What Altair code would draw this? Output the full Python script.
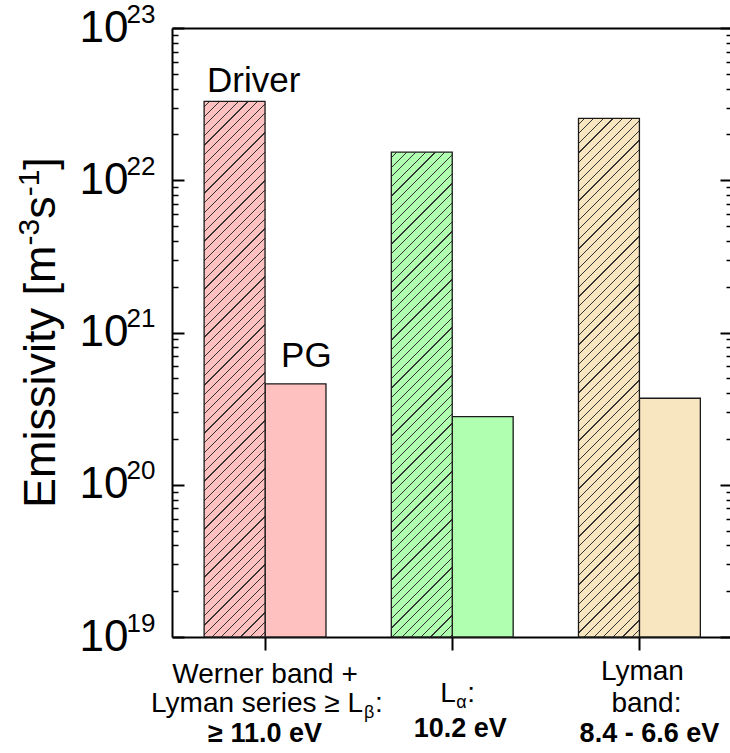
import math
import altair as alt
import pandas as pd

# ---------------- data ----------------
categories = ["Werner", "Lalpha", "LymanBand"]
series = ["Driver", "PG"]
driver_values = [3.3e22, 1.53e22, 2.55e22]
pg_values = [4.6e20, 2.8e20, 3.7e20]
bar_colors = ["#FFC0C0", "#B0FFB0", "#F8E6C1"]
major_ticks = [1e19, 1e20, 1e21, 1e22, 1e23]
minor_ticks = [m * 10.0 ** k for k in range(19, 23) for m in range(2, 10)]

# ---------------- layout / style ----------------
W, H = 558, 609
TOP = 28
FONT = "Liberation Sans"
Y_MIN, Y_MAX = 1e19, 1e23
P_IN, P_OUT = 0.349, 0.165

xscale = alt.Scale(domain=categories, paddingInner=P_IN, paddingOuter=P_OUT, align=0.52)
oscale = alt.Scale(domain=series, paddingInner=0, paddingOuter=0)
yscale = alt.Scale(type="log", domain=[Y_MIN, Y_MAX], nice=False)

step = W / (len(categories) - P_IN + 2 * P_OUT)
bar_w = step * (1 - P_IN) / 2


def bar_height(v):
    return (math.log10(v) - math.log10(Y_MIN)) / (math.log10(Y_MAX) - math.log10(Y_MIN)) * H


def hatch(base, h, w=bar_w, spacing=9.6, lw=1.2, line="#333333"):
    total = w + h
    r = w / h
    b = (1 + r) / (1 + r * r)
    a = r * b
    stops = [{"offset": 0, "color": base}]
    c = spacing * 0.6
    while c < total:
        o1 = max(0.0, (c - lw / 2) / total)
        o2 = min(1.0, (c + lw / 2) / total)
        stops += [{"offset": o1, "color": base}, {"offset": o1, "color": line},
                  {"offset": o2, "color": line}, {"offset": o2, "color": base}]
        c += spacing
    stops.append({"offset": 1, "color": base})
    return {"gradient": "linear", "x1": 0, "y1": 0, "x2": a, "y2": b, "stops": stops}


def yaxis(**kw):
    base = dict(orient="left", title=None, grid=False, labelFlush=False, labelOverlap=False,
                values=major_ticks, labels=False, ticks=False, tickSize=0,
                domain=False, tickColor="black", domainColor="black",
                labelColor="black", labelFont=FONT)
    base.update(kw)
    return alt.Axis(**base)


X_NONE = alt.X("cat:N", scale=xscale, axis=None)
STROKE = dict(stroke="#1a1a1a", strokeWidth=1.3)

# PG bars (solid) + "10" labels + left frame + bottom axis
pg_df = pd.DataFrame({"cat": categories, "series": "PG", "value": pg_values, "color": bar_colors})
pg_layer = alt.Chart(pg_df).mark_bar(**STROKE).encode(
    x=alt.X("cat:N", scale=xscale,
            axis=alt.Axis(orient="bottom", title=None, labels=False, ticks=True, tickSize=13,
                          tickWidth=2, tickColor="black", domain=True, domainColor="black",
                          domainWidth=2, grid=False)),
    xOffset=alt.XOffset("series:N", scale=oscale),
    y=alt.Y("value:Q", scale=yscale,
            axis=yaxis(labels=True, labelExpr="'10'", labelFontSize=44, labelPadding=44,
                       labelAlign="right", labelBaseline="middle", domain=True, domainWidth=2)),
    y2=alt.datum(Y_MIN),
    fill=alt.Fill("color:N", scale=None),
)

driver_axes = [
    yaxis(labels=True, labelExpr="format(log(datum.value)/LN10, '.0f')", labelFontSize=26,
          labelPadding=17, labelOffset=-14, labelAlign="right", labelBaseline="middle"),
    yaxis(ticks=True, tickSize=12, offset=-12, tickWidth=2),
    yaxis(ticks=True, tickSize=6, offset=-6, tickWidth=1.5, values=minor_ticks),
]

driver_layers = []
for i, cat in enumerate(categories):
    df = pd.DataFrame({"cat": [cat], "series": ["Driver"], "value": [driver_values[i]]})
    if i == 0:
        xenc = alt.X("cat:N", scale=xscale,
                     axis=alt.Axis(orient="top", title=None, labels=False, ticks=False,
                                   domain=True, domainColor="black", domainWidth=2, grid=False))
    else:
        xenc = X_NONE
    driver_layers.append(
        alt.Chart(df).mark_bar(fill=hatch(bar_colors[i], bar_height(driver_values[i])), **STROKE).encode(
            x=xenc,
            xOffset=alt.XOffset("series:N", scale=oscale),
            y=alt.Y("value:Q", scale=yscale, axis=driver_axes[i]),
            y2=alt.datum(Y_MIN),
        )
    )

# annotations "Driver" / "PG" (carry right-side axes)
ann_driver = alt.Chart(pd.DataFrame({"cat": [categories[0]], "value": [driver_values[0]], "t": ["Driver"]})).mark_text(
    align="left", baseline="alphabetic", dx=-58, dy=-9, fontSize=35, font=FONT, color="black"
).encode(
    x=X_NONE,
    y=alt.Y("value:Q", scale=yscale,
            axis=yaxis(orient="right", ticks=True, tickSize=10, offset=-10, tickWidth=2)),
    text="t:N",
)
ann_pg = alt.Chart(pd.DataFrame({"cat": [categories[0]], "value": [pg_values[0]], "t": ["PG"]})).mark_text(
    align="left", baseline="alphabetic", dx=16, dy=-17, fontSize=35, font=FONT, color="black"
).encode(
    x=X_NONE,
    y=alt.Y("value:Q", scale=yscale,
            axis=yaxis(orient="right", ticks=True, tickSize=4, offset=-4, tickWidth=1.5,
                       values=minor_ticks)),
    text="t:N",
)

# category labels below the axis
label_specs = [
    # cat, text, dx, abs baseline y, size, bold, align
    ("Werner", "Werner band +", 0, 683, 28, False, "center"),
    ("Werner", "Lyman series \u2265 L", 98, 712, 28, False, "right"),
    ("Werner", "\u03b2", 99, 718, 18, False, "left"),
    ("Werner", ":", 110, 712, 28, False, "left"),
    ("Werner", "\u2265 11.0 eV", 0, 742, 27, True, "center"),
    ("Lalpha", "L", -12, 702, 28, False, "left"),
    ("Lalpha", "\u03b1", 4, 708, 18, False, "left"),
    ("Lalpha", ":", 15, 702, 28, False, "left"),
    ("Lalpha", "10.2 eV", 8, 737, 27, True, "center"),
    ("LymanBand", "Lyman", 3, 680, 28, False, "center"),
    ("LymanBand", "band:", 7, 712, 28, False, "center"),
    ("LymanBand", "8.4 - 6.6 eV", 10, 742, 27, True, "center"),
]
label_layers = []
for cat, txt, dx, yabs, size, bold, align in label_specs:
    label_layers.append(
        alt.Chart(pd.DataFrame({"cat": [cat], "t": [txt]})).mark_text(
            align=align, baseline="alphabetic", dx=dx, fontSize=size, font=FONT,
            fontWeight="bold" if bold else "normal", color="black"
        ).encode(x=X_NONE, y=alt.value(yabs - TOP), text="t:N")
    )

# rotated y title built from pieces (normal + superscript)
title_pieces = ["Emissivity [m", "-3", "s", "-1", "]"]
title_sup = [False, True, False, True, False]
TF, TS = 45, 30
em = {"Emissivity [m": 5.833, "-3": 0.889, "s": 0.5, "-1": 0.889, "]": 0.278}
title_layers = []
ypos = 508 - TOP
for txt, sup in zip(title_pieces, title_sup):
    size = TS if sup else TF
    xpos = -117 - (16 if sup else 0)
    title_layers.append(
        alt.Chart(pd.DataFrame({"t": [txt]})).mark_text(
            angle=270, align="left", baseline="alphabetic", fontSize=size, font=FONT, color="black"
        ).encode(x=alt.value(xpos), y=alt.value(ypos), text="t:N")
    )
    ypos -= em[txt] * size

chart = alt.layer(
    pg_layer, *driver_layers, ann_driver, ann_pg, *label_layers, *title_layers
).resolve_axis(x="independent", y="independent").properties(
    width=W, height=H, autosize="none",
    padding={"left": 172, "top": TOP, "right": 0, "bottom": 116},
    background="white",
).configure_view(stroke=None)

chart.save("out.html", embed_options={"renderer": "svg", "actions": False})
